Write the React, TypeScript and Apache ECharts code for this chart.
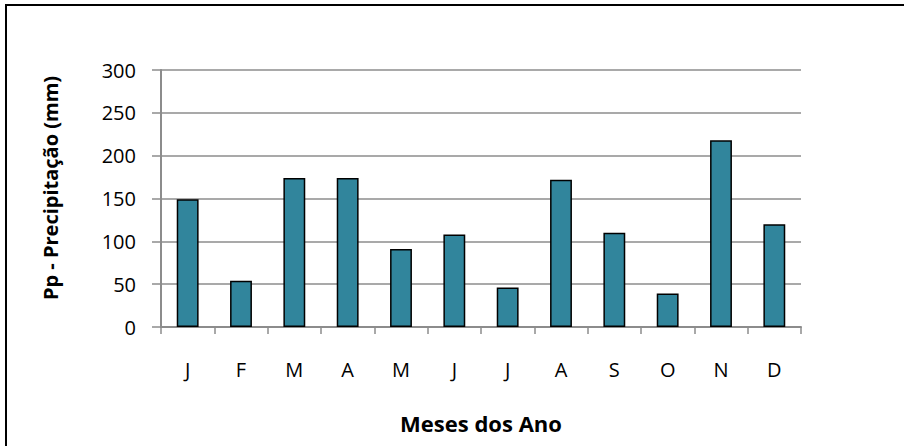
import React, { useEffect, useRef } from "react";
import * as echarts from "echarts";

const months = ["J", "F", "M", "A", "M", "J", "J", "A", "S", "O", "N", "D"];
const precipitation = [149, 54, 174, 174, 91, 108, 46, 172, 110, 39, 218, 120];
const yTicks = { min: 0, max: 300, interval: 50 };
const xTitle = "Meses dos Ano";
const yTitle = "Pp - Precipitação (mm)";

export default function App() {
  const ref = useRef<HTMLDivElement>(null);
  useEffect(() => {
    if (!ref.current) return;
    const chart = echarts.init(ref.current, undefined, { renderer: "svg" });
    const font = "'Open Sans', sans-serif";
    chart.setOption({
      animation: false,
      backgroundColor: "#ffffff",
      grid: { left: 161, right: 103, top: 70, bottom: 119 },
      xAxis: {
        type: "category",
        data: months,
        axisLine: { show: true, lineStyle: { color: "#8c8c8c", width: 2 } },
        axisTick: { show: true, length: 7, alignWithLabel: false, lineStyle: { color: "#8c8c8c", width: 1.5 } },
        axisLabel: { color: "#000", fontFamily: font, fontSize: 20, margin: 32 },
        splitLine: { show: false },
      },
      yAxis: {
        type: "value",
        min: yTicks.min,
        max: yTicks.max,
        interval: yTicks.interval,
        axisLine: { show: true, lineStyle: { color: "#8c8c8c", width: 2 } },
        axisTick: { show: true, length: 9, lineStyle: { color: "#8c8c8c", width: 1.5 } },
        axisLabel: { color: "#000", fontFamily: font, fontSize: 20, margin: 25 },
        splitLine: { show: true, lineStyle: { color: "#8c8c8c", width: 1.5 } },
      },
      series: [
        {
          type: "bar",
          data: precipitation,
          barWidth: "41%",
          itemStyle: { color: "#31859c", borderColor: "#000", borderWidth: 1.5 },
        },
      ],
      graphic: [
        {
          type: "rect",
          shape: { x: 6, y: 5, width: 1200, height: 1200 },
          style: { fill: "none", stroke: "#000", lineWidth: 2 },
          silent: true,
        },
        {
          type: "text",
          x: 481,
          y: 423,
          style: {
            text: xTitle,
            fontFamily: font,
            fontWeight: "bold",
            fontSize: 22,
            fill: "#000",
            align: "center",
            verticalAlign: "middle",
          },
        },
        {
          type: "text",
          x: 50,
          y: 188,
          rotation: Math.PI / 2,
          style: {
            text: yTitle,
            fontFamily: font,
            fontWeight: "bold",
            fontSize: 20,
            fill: "#000",
            align: "center",
            verticalAlign: "middle",
          },
        },
      ],
    });
    return () => chart.dispose();
  }, []);
  return <div ref={ref} style={{ width: 904, height: 446, position: "absolute", left: 0, top: 0 }} />;
}
